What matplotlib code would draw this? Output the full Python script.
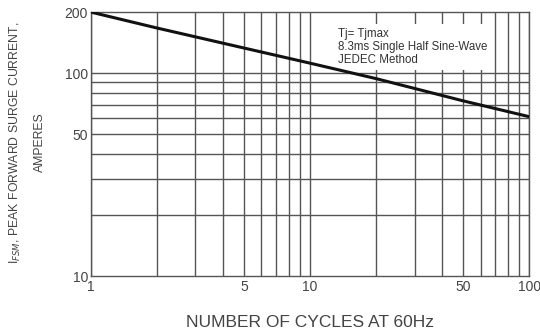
import numpy as np
import matplotlib
matplotlib.use('Agg')
import matplotlib.pyplot as plt
from matplotlib.ticker import FixedLocator, NullFormatter, FixedFormatter

# surge curve
cycles = [1, 2, 5, 10, 20, 50, 100]
amps = [200, 167, 133, 112, 94, 73, 61]

xgrid = [1, 2, 3, 4, 5, 6, 7, 8, 9, 10, 20, 30, 40, 50, 60, 70, 80, 90, 100]
ygrid = [20, 30, 40, 50, 60, 70, 80, 90, 100]
xticks = [1, 5, 10, 50, 100]
yticks = [10, 50, 100, 200]

GRID = '#555555'
TXT = '#444444'

plt.rcParams['font.family'] = ['Liberation Sans', 'DejaVu Sans']

fig = plt.figure(figsize=(5.4, 3.35), dpi=100)
ax = fig.add_axes([0.168, 0.176, 0.812, 0.788])
ax.set_xscale('log')
ax.set_yscale('log')
ax.set_xlim(1, 100)
ax.set_ylim(10, 200)

for x in xgrid:
    ax.axvline(x, color=GRID, lw=1.0, zorder=1)
for y in ygrid:
    ax.axhline(y, color=GRID, lw=1.0, zorder=1)

ax.plot(cycles, amps, color='#111111', lw=2.2, zorder=4, solid_capstyle='butt')

ax.xaxis.set_major_locator(FixedLocator(xticks))
ax.xaxis.set_major_formatter(FixedFormatter([str(v) for v in xticks]))
ax.xaxis.set_minor_formatter(NullFormatter())
ax.yaxis.set_major_locator(FixedLocator(yticks))
ax.yaxis.set_major_formatter(FixedFormatter([str(v) for v in yticks]))
ax.yaxis.set_minor_formatter(NullFormatter())
ax.tick_params(which='both', length=0, labelsize=10, labelcolor=TXT, pad=2)
ax.tick_params(axis='x', pad=3)

for s in ax.spines.values():
    s.set_color(GRID)
    s.set_linewidth(1.0)

ax.text(0.565, 0.94, 'Tj= Tjmax\n8.3ms Single Half Sine-Wave\nJEDEC Method',
        transform=ax.transAxes, fontsize=8.3, color='#333333', va='top', ha='left',
        linespacing=1.1, zorder=3,
        bbox=dict(facecolor='white', edgecolor='none', pad=3))

ax.set_xlabel('NUMBER OF CYCLES AT 60Hz', fontsize=12.5, color=TXT, labelpad=15)
fig.text(0.028, 0.575, 'I$_{FSM}$, PEAK FORWARD SURGE CURRENT,', rotation=90,
         fontsize=8.8, color=TXT, ha='center', va='center')
fig.text(0.074, 0.575, 'AMPERES', rotation=90,
         fontsize=8.8, color=TXT, ha='center', va='center')

fig.savefig('out.png', dpi=100, facecolor='white')
